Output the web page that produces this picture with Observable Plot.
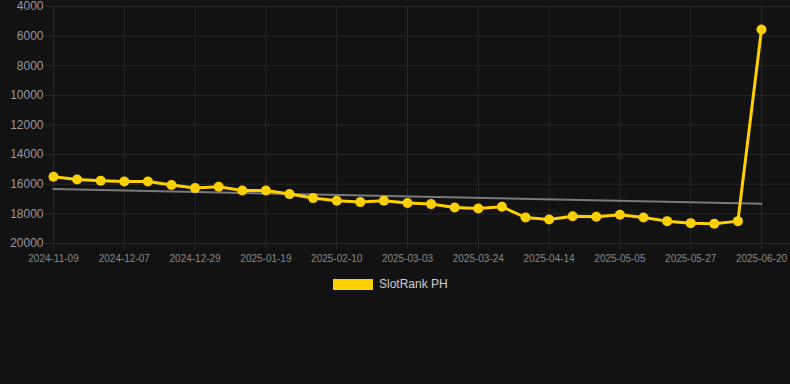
<!DOCTYPE html>
<html><head><meta charset="utf-8">
<script src="https://cdn.jsdelivr.net/npm/d3@7"></script>
<script src="https://cdn.jsdelivr.net/npm/@observablehq/plot@0.6"></script>
<style>
html,body{margin:0;padding:0;background:#121212;font-family:"Liberation Sans",Arial,Helvetica,sans-serif;}
#wrap{position:relative;width:790px;height:384px;overflow:hidden;}
#legend{position:absolute;left:333px;top:278px;display:flex;align-items:center;height:12px;}
#legend .sw{width:40px;height:11px;background:#FFD000;margin-right:6px;}
#legend span{color:#cfcfcf;font-size:12px;}
</style></head>
<body><div id="wrap"><div id="chart"></div><div id="legend"><div class="sw"></div><span>SlotRank PH</span></div></div>
<script>
const xTickLabels = ["2024-11-09","2024-12-07","2024-12-29","2025-01-19","2025-02-10","2025-03-03","2025-03-24","2025-04-14","2025-05-05","2025-05-27","2025-06-20"];
const rankValues = [15490,15675,15760,15810,15810,16050,16260,16170,16420,16420,16665,16935,17115,17205,17115,17270,17340,17565,17635,17520,18245,18380,18155,18200,18060,18245,18490,18625,18670,18490,5550];
const yTicks = [4000,6000,8000,10000,12000,14000,16000,18000,20000];
const seriesName = "SlotRank PH";

const data = rankValues.map((v,i)=>({i, v}));
const xTicks = xTickLabels.map((_,k)=>k*3);
const gridColor = "#272727";

const chart = Plot.plot({
  width: 790, height: 270,
  marginLeft: 53, marginRight: 29, marginTop: 6, marginBottom: 27,
  style: {background: "#121212", color: "#8c8c8c", fontFamily: '"Liberation Sans",Arial,sans-serif'},
  x: {type: "linear", domain: [0, 30], axis: null, label: null},
  y: {domain: [4000, 20000], reverse: true, axis: null, label: null},
  marks: [
    Plot.ruleY(yTicks, {y: d=>d, x1: -0.4, x2: 31.3, stroke: gridColor, strokeWidth: 1}),
    Plot.ruleX(xTicks, {x: d=>d, y1: 4000, y2: 20000, stroke: gridColor, strokeWidth: 1}),
    Plot.axisX({ticks: xTicks, tickFormat: i => xTickLabels[i/3], tickSize: 6, tickPadding: 5, fontSize: 10, stroke: gridColor, color: "#888", label: null}),
    Plot.axisY({ticks: yTicks, tickFormat: d => String(d), tickSize: 0, tickPadding: 10, fontSize: 12, color: "#999", label: null}),
    Plot.linearRegressionY(data, {x: "i", y: "v", stroke: "#7a7a7a", strokeWidth: 2, ci: 0}),
    Plot.line(data, {x: "i", y: "v", stroke: "#FFD000", strokeWidth: 3}),
    Plot.dot(data, {x: "i", y: "v", r: 5, fill: "#FFD000", stroke: "none"})
  ]
});
document.getElementById("chart").appendChild(chart);
document.querySelector("#legend span").textContent = seriesName;
</script>
</body></html>
